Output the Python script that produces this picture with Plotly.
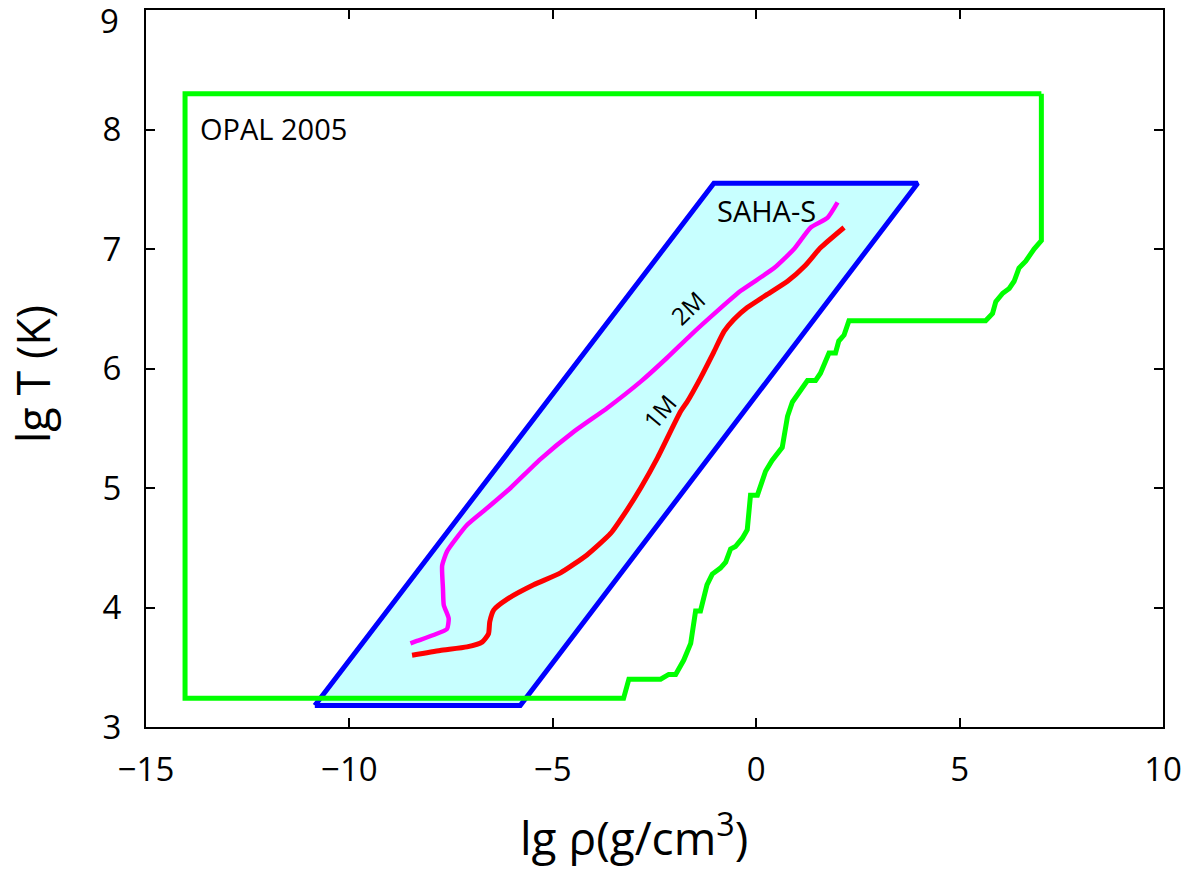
import plotly.graph_objects as go

# SAHA-S region (parallelogram)
saha_x = [-10.85, -5.80, 3.97, -1.04, -10.85]
saha_y = [3.18, 3.18, 7.55, 7.55, 3.18]

# OPAL 2005 region boundary
opal_x = [7.01, 7.01, 6.83, 6.63, 6.46, 6.34, 6.22, 6.06, 5.89, 5.81, 5.64,
          2.28, 2.16, 2.03, 1.95, 1.79, 1.58, 1.46, 1.26, 1.09, 0.89, 0.77,
          0.64, 0.39, 0.23, 0.03, -0.14, -0.22, -0.34, -0.51, -0.63, -0.75,
          -0.88, -1.08, -1.21, -1.37, -1.49, -1.61, -1.78, -1.98, -2.15, -2.35,
          -3.13, -3.26, -14.04, -14.04, 7.01]
opal_y = [8.30, 7.07, 7.00, 6.90, 6.84, 6.73, 6.67, 6.63, 6.56, 6.46, 6.40,
          6.40, 6.28, 6.23, 6.13, 6.13, 5.96, 5.90, 5.90, 5.82, 5.72, 5.60,
          5.34, 5.23, 5.14, 4.94, 4.94, 4.65, 4.58, 4.51, 4.49, 4.38,
          4.33, 4.28, 4.19, 3.97, 3.97, 3.70, 3.56, 3.44, 3.44, 3.40,
          3.40, 3.24, 3.24, 8.30, 8.30]

# 1M track
m1_x = [-8.46, -7.77, -7.11, -6.74, -6.58, -6.55, -6.45, -6.12, -5.47, -4.81,
        -4.16, -3.58, -3.17, -2.84, -2.43, -1.86, -1.70, -1.37, -1.04, -0.79,
        -0.55, -0.22, 0.27, 0.77, 1.20, 1.58, 2.16]
m1_y = [3.60, 3.64, 3.67, 3.71, 3.78, 3.88, 3.98, 4.07, 4.19, 4.29,
        4.44, 4.62, 4.82, 5.00, 5.25, 5.64, 5.72, 5.92, 6.14, 6.31,
        6.41, 6.51, 6.62, 6.73, 6.86, 7.01, 7.18]

# 2M track
m2_x = [-8.50, -8.34, -7.93, -7.60, -7.56, -7.68, -7.70, -7.72, -7.60, -7.11,
        -6.62, -6.04, -5.31, -4.49, -3.66, -2.84, -2.19, -1.61, -0.96, -0.38,
        0.44, 0.93, 1.34, 1.75, 2.00]
m2_y = [3.70, 3.72, 3.77, 3.82, 3.91, 4.02, 4.16, 4.35, 4.47, 4.69,
        4.83, 5.00, 5.24, 5.47, 5.67, 5.89, 6.09, 6.28, 6.48, 6.65,
        6.84, 7.00, 7.18, 7.26, 7.39]

# tick labels
x_ticks = [-15, -10, -5, 0, 5, 10]
y_ticks = [3, 4, 5, 6, 7, 8, 9]
y_ticktext = ["3", "4", "5", "6", "7", "8", ""]   # top label "9" drawn lowered, as in the original

FONT = "Open Sans"
OFF = 8  # default page body margin

fig = go.Figure()
fig.add_trace(go.Scatter(x=saha_x, y=saha_y, mode="lines", fill="toself",
                         fillcolor="#c8ffff", line=dict(color="#0000ff", width=5),
                         name="SAHA-S", hoverinfo="skip"))
fig.add_trace(go.Scatter(x=m2_x, y=m2_y, mode="lines",
                         line=dict(color="#ff00ff", width=4.5, shape="spline", smoothing=0.5),
                         name="2M"))
fig.add_trace(go.Scatter(x=m1_x, y=m1_y, mode="lines",
                         line=dict(color="#ff0000", width=5, shape="spline", smoothing=0.5),
                         name="1M"))
fig.add_trace(go.Scatter(x=opal_x, y=opal_y, mode="lines",
                         line=dict(color="#00ff00", width=5),
                         name="OPAL 2005"))

fig.add_annotation(x=-13.72, y=8.01, text="OPAL 2005", showarrow=False,
                   xanchor="left", yanchor="middle", font=dict(size=29, color="black", family=FONT))
fig.add_annotation(x=-1.02, y=7.32, text="SAHA-S", showarrow=False,
                   xanchor="left", yanchor="middle", font=dict(size=29, color="black", family=FONT))
fig.add_annotation(x=-1.68, y=6.51, text="2M", showarrow=False, textangle=-44,
                   font=dict(size=24, color="black", family=FONT))
fig.add_annotation(x=-2.38, y=5.64, text="1M", showarrow=False, textangle=-50,
                   font=dict(size=24, color="black", family=FONT))

L, R, T, B = 138, 47, 2, 151
W, H = 1202, 870
pw, ph = W - L - R, H - T - B

def px_x(p):  # page pixel -> paper fraction
    return (p - OFF - L) / pw

def px_y(p):
    return (H - B - (p - OFF)) / ph

# axis titles
fig.add_annotation(x=px_x(634), y=px_y(835), xref="paper", yref="paper",
                   text="lg ρ(g/cm<sup>3</sup>)", showarrow=False,
                   xanchor="center", yanchor="middle",
                   font=dict(size=46, color="black", family=FONT))
fig.add_annotation(x=px_x(32), y=px_y(374), xref="paper", yref="paper",
                   text="lg T (K)", showarrow=False, xanchor="center", yanchor="middle",
                   textangle=-90, font=dict(size=45, color="black", family=FONT))
# top y tick label
fig.add_annotation(x=px_x(121), y=px_y(20), xref="paper", yref="paper",
                   text=str(y_ticks[-1]), showarrow=False, xanchor="right", yanchor="middle",
                   font=dict(size=33, color="black", family=FONT))

axis_common = dict(showgrid=False, zeroline=False, showline=True, linecolor="black",
                   linewidth=2, mirror="allticks", ticks="inside", ticklen=9,
                   tickwidth=1.5, tickcolor="black", automargin=False,
                   ticklabeloverflow="allow",
                   tickfont=dict(size=33, color="black", family=FONT))

fig.update_xaxes(range=[-15, 10], tickvals=x_ticks, ticklabelstandoff=12, **axis_common)
fig.update_yaxes(range=[3, 9], tickvals=y_ticks, ticktext=y_ticktext,
                 ticklabelstandoff=16, **axis_common)

fig.update_layout(width=W, height=H, showlegend=False,
                  plot_bgcolor="white", paper_bgcolor="white",
                  margin=dict(l=L, r=R, t=T, b=B))

fig.write_html("out.html")
